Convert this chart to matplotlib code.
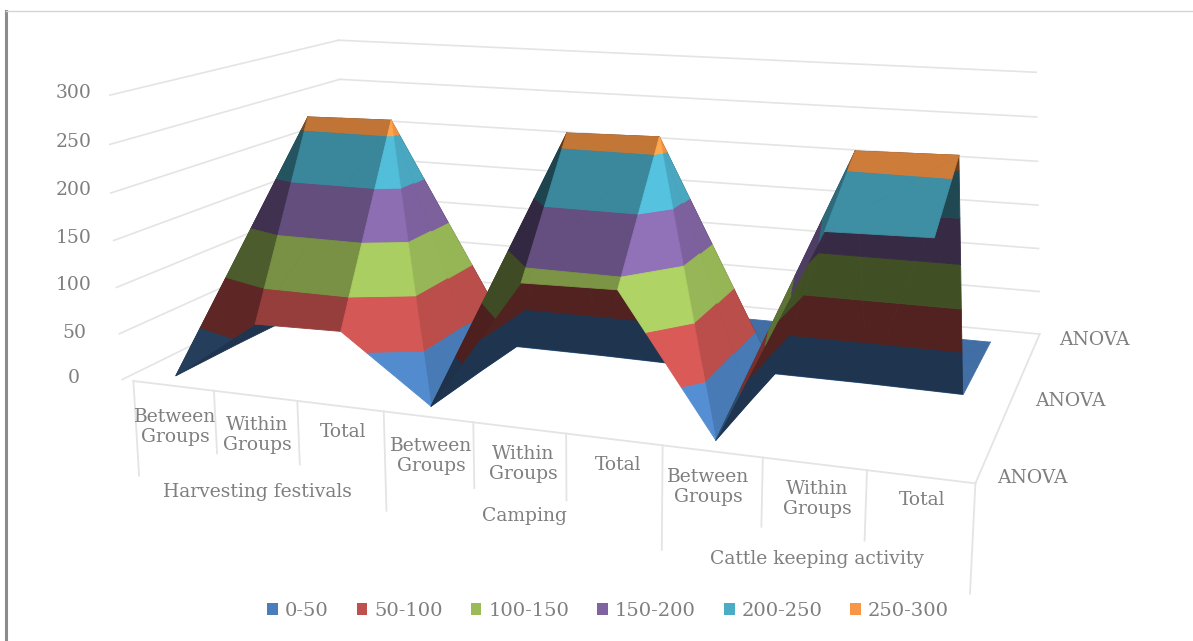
import numpy as np
import matplotlib
matplotlib.use('Agg')
import matplotlib.pyplot as plt
from matplotlib.colors import to_rgb
from matplotlib.lines import Line2D
from matplotlib.patches import Patch
from mpl_toolkits.mplot3d import proj3d
from mpl_toolkits.mplot3d.art3d import Poly3DCollection

########## data

categories = ['Between\nGroups', 'Within\nGroups', 'Total'] * 3
groups = ['Harvesting festivals', 'Camping', 'Cattle keeping activity']
band_labels = ['0-50', '50-100', '100-150', '150-200', '200-250', '250-300']
band_edges = [0, 50, 100, 150, 200, 250, 300]
band_colors = ['#4a7ebb', '#c0504d', '#9bbb59', '#8064a2', '#4bacc6', '#f79646']
z_ticks = [0, 50, 100, 150, 200, 250, 300]

# one row per column of the ANOVA table, only every other row gets a label
sum_of_squares = [2, 68, 70, 2, 138, 140, 2, 212, 214]
df = [2, 264, 266, 2, 264, 266, 2, 264, 266]
mean_square = [1, 0, 0, 1, 1, 0, 1, 1, 0]
f_value = [3, 0, 0, 3, 0, 0, 3, 0, 0]
sig = [0, 0, 0, 0, 0, 0, 0, 0, 0]
rows = np.array([sum_of_squares, df, mean_square, f_value, sig], float)
row_labels = ['ANOVA', 'ANOVA', 'ANOVA']

########## camera

BOX = (2.678, 1.511, 0.906)
X0, X1, Y0, Y1, Z0, Z1 = -0.5, 8.5, -0.5, 4.5, 0, 300
row_y = [-0.25, 1, 2, 3, 4]
W, H = 1193, 641

fig = plt.figure(figsize=(W / 100, H / 100), dpi=100)
side = 956.2
ax = fig.add_axes([109.3 / W, (H - 713.4) / H, side / W, side / H], projection='3d')
ax.set_xlim(X0, X1)
ax.set_ylim(Y0, Y1)
ax.set_zlim(Z0, Z1)
ax.view_init(elev=12.715, azim=-70.18)
ax.set_proj_type('persp', focal_length=0.3464)
ax.set_box_aspect(BOX)
ax.set_axis_off()
ax.computed_zorder = False
ax.patch.set_alpha(0)
M = ax.get_proj()

plt.rcParams['font.family'] = 'DejaVu Serif'
TEXT = '#7f7f7f'
GRID = '#e4e4e4'

# label centres in pixels, measured from the top left
z_label_xy = [(74, 378), (74, 333), (74, 285), (74, 238), (74, 190), (74, 142), (74, 93)]
cat_label_xy = [(175, 427), (257, 435), (343, 432), (431, 456), (523, 464), (618, 465),
                (708, 487), (817, 499), (922, 500)]
group_label_xy = [(257, 492), (524, 516), (817, 559)]
row_label_xy = [(1032, 478), (1070, 401), (1094, 340)]


def put_text(xy, s, size=13.5):
    fig.text(xy[0] / W, 1 - xy[1] / H, s, color=TEXT, fontsize=size, ha='center', va='center',
             linespacing=1.1)


def clip_band(tri, lo, hi):
    # cut a polygon down to the part between two heights
    out = tri
    for level, keep_above in ((lo, True), (hi, False)):
        cut = []
        for k in range(len(out)):
            p, q = np.array(out[k]), np.array(out[(k + 1) % len(out)])
            p_in = p[2] >= level if keep_above else p[2] <= level
            q_in = q[2] >= level if keep_above else q[2] <= level
            if p_in:
                cut.append(p)
            if p_in != q_in:
                t = (level - p[2]) / (q[2] - p[2])
                cut.append(p + t * (q - p))
        out = cut
        if len(out) < 3:
            return []
    return out


def face_factor(tri):
    # lit from the front right, much darker when seen from below
    a, b, c = [np.array(v) * [BOX[0] / 9, BOX[1] / 5, BOX[2] / 300] for v in tri]
    n = np.cross(b - a, c - a)
    n = n / np.linalg.norm(n)
    s = [proj3d.proj_transform(v[0], v[1], v[2], M)[:2] for v in tri]
    area = (s[1][0] - s[0][0]) * (s[2][1] - s[0][1]) - (s[2][0] - s[0][0]) * (s[1][1] - s[0][1])
    if area < 0:
        return 0.42 if n[1] >= 0 else 0.56
    return min(0.88 + 0.1 * n[0] + 0.11 * n[1] - 1.0 * n[0] * n[1], 1.13)


def depth(tri):
    return np.mean([proj3d.proj_transform(v[0], v[1], v[2], M)[2] for v in tri])


########## grid and floor

for z in z_ticks:
    ax.plot([X0, X0], [Y0, Y1], [z, z], color=GRID, lw=1.2, zorder=1)
    ax.plot([X0, X1 - 0.2 * z / 300], [Y1, Y1], [z, z], color=GRID, lw=1.2, zorder=1)
ax.plot([X0 + 0.14, X1], [Y0, Y0], [0, 0], color=GRID, lw=1.3, zorder=1)
ax.plot([X1, X1], [Y0, Y1], [0, 0], color=GRID, lw=1.3, zorder=1)

########## surface split into value bands, far cells first

order = 2
for j in range(rows.shape[0] - 2, -1, -1):
    for i in range(rows.shape[1] - 1):
        a = (i, row_y[j], rows[j, i])
        b = (i + 1, row_y[j], rows[j, i + 1])
        c = (i + 1, row_y[j + 1], rows[j + 1, i + 1])
        d = (i, row_y[j + 1], rows[j + 1, i])
        if abs(a[2] - c[2]) >= abs(b[2] - d[2]):
            tris = [(a, b, c), (a, c, d)]
        else:
            tris = [(a, b, d), (b, c, d)]
        for tri in sorted(tris, key=depth, reverse=True):
            f = face_factor(tri)
            polys, colors = [], []
            for k, col in enumerate(band_colors):
                piece = clip_band(tri, band_edges[k], band_edges[k + 1])
                if piece:
                    polys.append(piece)
                    colors.append(tuple(np.clip(np.array(to_rgb(col)) * f, 0, 1)))
            if polys:
                ax.add_collection3d(Poly3DCollection(polys, facecolors=colors, edgecolors=colors,
                                                     linewidths=0.6, zorder=order))
                order += 1

########## category axis, two levels of labels

for i in range(10):
    long_tick = i % 3 == 0
    tick_x = X0 + 0.14 + i * (9 - 0.14) / 9
    ax.plot([tick_x, tick_x], [Y0, Y0], [0, -105 if long_tick else -68], color=GRID, lw=1.3, zorder=1)

for xy, z in zip(z_label_xy, z_ticks):
    put_text(xy, str(z))
for xy, cat in zip(cat_label_xy, categories):
    put_text(xy, cat)
for xy, name in zip(group_label_xy, groups):
    put_text(xy, name)
for xy, lab in zip(row_label_xy, row_labels):
    put_text(xy, lab)

########## legend and frame

handles = [Patch(facecolor=c, label=l) for c, l in zip(band_colors, band_labels)]
fig.legend(handles=handles, ncol=6, loc='center', bbox_to_anchor=(608 / W, 1 - 611 / H),
           frameon=False, fontsize=14, labelcolor=TEXT, handlelength=0.55, handleheight=0.55,
           handletextpad=0.35, columnspacing=1.45)

fig.add_artist(Line2D([6 / W, 6 / W], [0, 1 - 11 / H], color='#8c8c8c', lw=2.2))
fig.add_artist(Line2D([6 / W, 1], [1 - 11 / H, 1 - 11 / H], color='#d4d4d4', lw=1))

fig.savefig('out.png', dpi=100)
